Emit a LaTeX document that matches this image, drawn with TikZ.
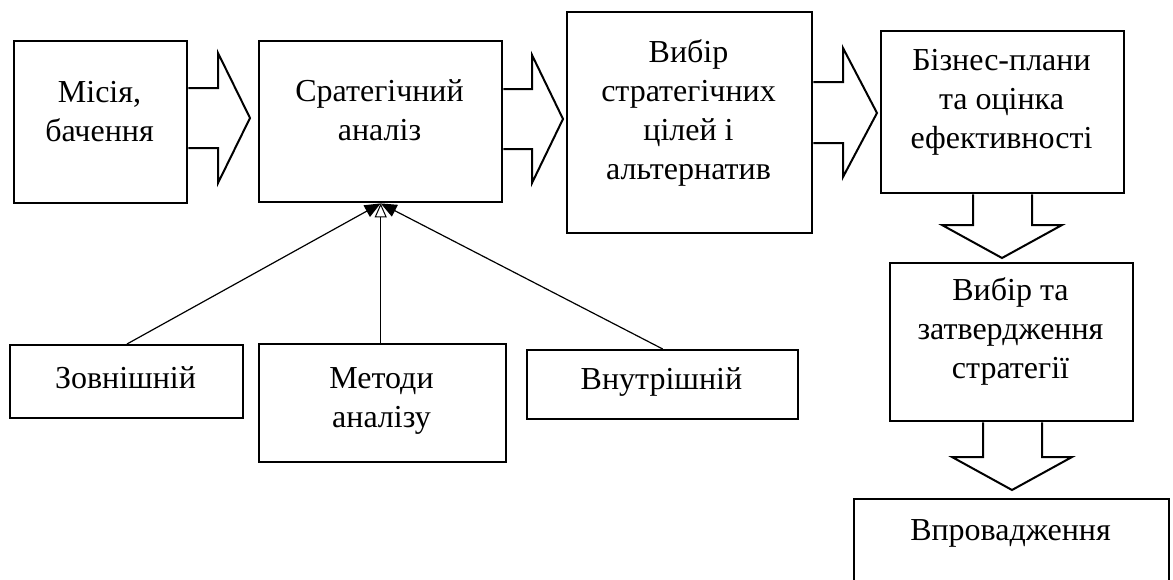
\documentclass[tikz,border=0pt]{standalone}
\usepackage{fontspec}
\setmainfont{Liberation Serif}
\usetikzlibrary{arrows.meta}
\tikzset{
  box/.style={draw, line width=2.4pt, anchor=north west, inner sep=0pt},
  txt/.style={font=\fontsize{32}{39}\selectfont, align=center, inner sep=0pt, anchor=north},
  barrow/.style={draw, line width=2pt, line join=miter},
  conn/.style={line width=1.2pt},
  filltip/.style={-{Triangle[length=16pt,width=13pt]}},
  opentip/.style={-{Triangle[open,fill=white,length=14pt,width=12pt,line width=1pt]}}
}
\begin{document}
\begin{tikzpicture}[x=1pt,y=-1pt]
\useasboundingbox (0,0) rectangle (1173,579);
\clip (0,0) rectangle (1173,579);
% boxes
\node[box, minimum width=173pt, minimum height=162pt] (b1) at (13,40) {};
\node[box, minimum width=243pt, minimum height=161pt] (b2) at (258,40) {};
\node[box, minimum width=245pt, minimum height=221pt] (b3) at (566,11) {};
\node[box, minimum width=243pt, minimum height=162pt] (b4) at (880,30) {};
\node[box, minimum width=243pt, minimum height=158pt] (b5) at (889,262) {};
\node[box, minimum width=315pt, minimum height=110pt] (b6) at (853,498) {};
\node[box, minimum width=233pt, minimum height=73pt] (zov) at (9,344) {};
\node[box, minimum width=247pt, minimum height=118pt] (met) at (258,343) {};
\node[box, minimum width=271pt, minimum height=69pt] (vnu) at (526,349) {};
% texts
\node[txt] (t1) at (99.5,74.7) {\strut Місія,\\бачення};
\node[txt] (t2) at (379.5,73.7) {\strut Сратегічний\\аналіз};
\node[txt] (t3) at (688.5,34.7) {\strut Вибір\\стратегічних\\цілей і\\альтернатив};
\node[txt] (t4) at (1001.5,42.7) {\strut Бізнес-плани\\та оцінка\\ефективності};
\node[txt] (t5) at (1010.5,272.7) {\strut Вибір та\\затвердження\\стратегії};
\node[txt] (t6) at (1010.5,512.7) {\strut Впровадження};
\node[txt] (tz) at (125.5,360.7) {\strut Зовнішній};
\node[txt] (tm) at (381.5,360.7) {\strut Методи\\аналізу};
\node[txt] (tv) at (661.5,361.7) {\strut Внутрішній};
% block arrows (right)
\draw[barrow] (b1.east |- 0,88) -- (218,88) -- (218,53) -- (250,118) -- (218,183) -- (218,148) -- (b1.east |- 0,148);
\draw[barrow] (b2.east |- 0,89) -- (532,89) -- (532,55) -- (563,119) -- (532,183) -- (532,149) -- (b2.east |- 0,149);
\draw[barrow] (b3.east |- 0,82) -- (843,82) -- (843,48) -- (877,113) -- (843,177) -- (843,143) -- (b3.east |- 0,143);
% block arrows (down)
\draw[barrow] (973,0 |- b4.south) -- (973,225) -- (942,225) -- (1002,258) -- (1062,225) -- (1032,225) -- (1032,0 |- b4.south);
\draw[barrow] (983,0 |- b5.south) -- (983,457) -- (952,457) -- (1012,490) -- (1072,457) -- (1042,457) -- (1042,0 |- b5.south);
% connectors
\draw[conn, filltip] (zov.north -| 127,0) -- (b2.south);
\draw[conn, filltip] (vnu.north) -- (b2.south);
\draw[conn, opentip] (met.north -| b2.south) -- (b2.south);
\end{tikzpicture}
\end{document}
